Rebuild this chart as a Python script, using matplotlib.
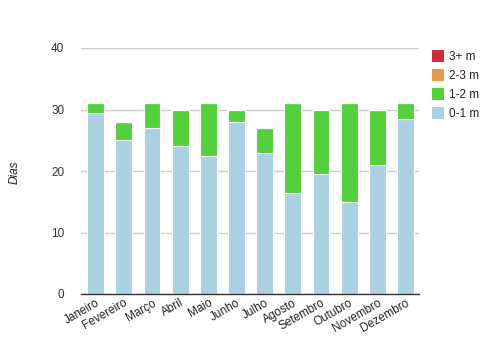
import matplotlib
matplotlib.use("Agg")
import matplotlib.pyplot as plt
import numpy as np

months = ["Janeiro", "Fevereiro", "Março", "Abril", "Maio", "Junho", "Julho",
          "Agosto", "Setembro", "Outubro", "Novembro", "Dezembro"]
s_0_1 = [29.5, 25, 27, 24, 22.5, 28, 23, 16.5, 19.5, 15, 21, 28.5]
s_1_2 = [1.5, 3, 4, 6, 8.5, 2, 4, 14.5, 10.5, 16, 9, 2.5]
s_2_3 = [0] * 12
s_3p = [0] * 12
series_names = ["0-1 m", "1-2 m", "2-3 m", "3+ m"]
colors = ["#abd0e2", "#55d03d", "#e19b4f", "#cc2b3c"]
yticks = [0, 10, 20, 30, 40]

plt.rcParams['font.family'] = ['Liberation Sans', 'DejaVu Sans']
fig = plt.figure(figsize=(4.99, 3.49), dpi=100)
ax = fig.add_axes([81/499, 1-294/349, 338/499, (294-48)/349])

x = np.arange(len(months))
bottom = np.zeros(len(months))
handles = []
for vals, name, c in zip([s_0_1, s_1_2, s_2_3, s_3p], series_names, colors):
    v = np.array(vals, dtype=float)
    b = ax.bar(x, v, 0.6, bottom=bottom, color=c, edgecolor="white", linewidth=0.8, label=name, zorder=3)
    handles.append(b)
    bottom += v

ax.set_xlim(-0.52, 11.48)
ax.set_ylim(0, 40)
ax.set_yticks(yticks)
ax.set_yticklabels([str(t) for t in yticks], fontsize=8.5, color="#333333")
ax.yaxis.grid(True, color="#cccccc", linewidth=1, zorder=0)
ax.tick_params(axis="y", length=0, pad=12)
ax.tick_params(axis="x", length=0, pad=2)
ax.set_xticks(x)
ax.set_xticklabels(months, rotation=30, ha="right", rotation_mode="anchor", fontsize=8.5, color="#222222")
for s in ["left", "right", "top"]:
    ax.spines[s].set_visible(False)
ax.spines["bottom"].set_color("#333333")
ax.spines["bottom"].set_linewidth(1)
ax.spines["bottom"].set_zorder(4)

fig.text(15/499, 1-172/349, "Dias", rotation=90, style="italic", fontsize=8.5, color="#222222", ha="center", va="center")

legend_patches = [plt.Rectangle((0, 0), 1, 1, facecolor=c, edgecolor="none") for c in colors]
leg = ax.legend(handles=legend_patches[::-1], labels=series_names[::-1], loc="upper left",
                bbox_to_anchor=(427/499, 1-45/349), bbox_transform=fig.transFigure,
                frameon=False, fontsize=8.5, handlelength=1.05, handleheight=1.2,
                handletextpad=0.4, labelspacing=0.52, borderaxespad=0)
for t in leg.get_texts():
    t.set_color("#222222")

fig.savefig("out.png", dpi=100)
